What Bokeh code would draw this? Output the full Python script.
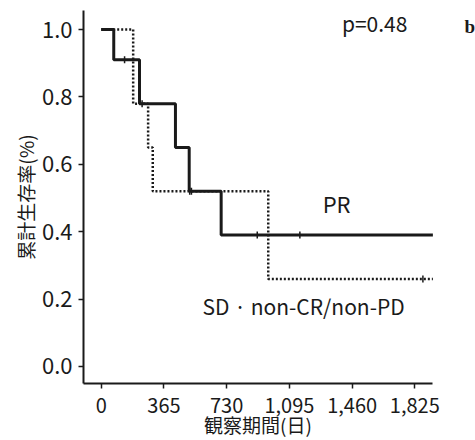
from bokeh.plotting import figure
from bokeh.models import Range1d, FixedTicker, Label
from bokeh.embed import file_html
from bokeh.resources import INLINE

# ---- data ----
pr_days = [0, 73, 223, 432, 512, 698, 1930]
pr_surv = [1.0, 0.91, 0.78, 0.65, 0.52, 0.39, 0.39]
pr_cens_days = [136, 238, 525, 908, 1156]
pr_cens_surv = [0.91, 0.78, 0.52, 0.39, 0.39]

sd_days = [0, 186, 273, 300, 972, 1930]
sd_surv = [1.0, 0.78, 0.65, 0.52, 0.26, 0.26]
sd_cens_days = [515, 1872]
sd_cens_surv = [0.52, 0.26]

x_ticks = [0, 365, 730, 1095, 1460, 1825]
x_labels = ["0", "365", "730", "1,095", "1,460", "1,825"]
y_ticks = [0.0, 0.2, 0.4, 0.6, 0.8, 1.0]
y_labels = ["0.0", "0.2", "0.4", "0.6", "0.8", "1.0"]

FONT = "Noto Sans CJK JP"
INK = "#1a1a1a"

X_MIN, X_MAX = -103, 1930      # axis extents (days)
Y_MIN, Y_MAX = -0.05, 1.056    # axis extents (survival)

p = figure(width=475, height=440, output_backend="svg", toolbar_location=None,
           x_range=Range1d(-586, 2178), y_range=Range1d(-0.2196, 1.0861))
p.min_border = 0
p.outline_line_color = None
p.xgrid.visible = False
p.ygrid.visible = False
p.background_fill_color = "white"

p.step(pr_days, pr_surv, mode="after", line_color=INK, line_width=3)
p.step(sd_days, sd_surv, mode="after", line_color=INK, line_width=2.5, line_dash="2 2")
p.scatter(pr_cens_days, pr_cens_surv, marker="dash", angle=1.5708, size=7,
          line_color=INK, line_width=1.5)
p.scatter(sd_cens_days, sd_cens_surv, marker="dash", angle=1.5708, size=7,
          line_color=INK, line_width=1.5)

for ax in (p.xaxis[0], p.yaxis[0]):
    ax.axis_line_width = 2
    ax.axis_line_color = INK
    ax.major_tick_line_color = INK
    ax.major_tick_line_width = 1.5
    ax.major_tick_in = 0
    ax.major_tick_out = 5
    ax.minor_tick_line_color = None
    ax.major_label_text_font = FONT
    ax.major_label_text_color = INK
    ax.axis_label_text_font = FONT
    ax.axis_label_text_font_style = "normal"
    ax.axis_label_text_color = INK
    ax.axis_label_text_font_size = "19px"

p.xaxis.fixed_location = Y_MIN
p.xaxis.bounds = (X_MIN, X_MAX)
p.xaxis.ticker = FixedTicker(ticks=x_ticks)
p.xaxis.major_label_overrides = dict(zip(x_ticks, x_labels))
p.xaxis.major_label_text_font_size = "20px"
p.xaxis.major_label_standoff = 10
p.xaxis.axis_label = "観察期間(日)"
p.xaxis.axis_label_standoff = -6

p.yaxis.fixed_location = X_MIN
p.yaxis.bounds = (Y_MIN, Y_MAX)
p.yaxis.ticker = FixedTicker(ticks=y_ticks)
p.yaxis.major_label_overrides = dict(zip(y_ticks, y_labels))
p.yaxis.major_label_text_font_size = "22px"
p.yaxis.major_label_standoff = 6
p.yaxis.axis_label = "累計生存率(%)"
p.yaxis.axis_label_standoff = 0

p.add_layout(Label(x=1591, y=1.018, text="p=0.48", text_font=FONT, text_font_size="21px",
                   text_color=INK, text_align="center", text_baseline="middle"))
p.add_layout(Label(x=2176, y=1.01, text="b", text_font="Liberation Serif", text_font_size="19px",
                   text_font_style="bold", text_color=INK, text_align="right",
                   text_baseline="middle"))
p.add_layout(Label(x=1370, y=0.484, text="PR", text_font=FONT, text_font_size="22px",
                   text_color=INK, text_align="center", text_baseline="middle"))
p.add_layout(Label(x=1178, y=0.181, text="SD · non-CR/non-PD", text_font=FONT,
                   text_font_size="21px", text_color=INK, text_align="center",
                   text_baseline="middle"))

open("out.html", "w").write(file_html(p, INLINE))
